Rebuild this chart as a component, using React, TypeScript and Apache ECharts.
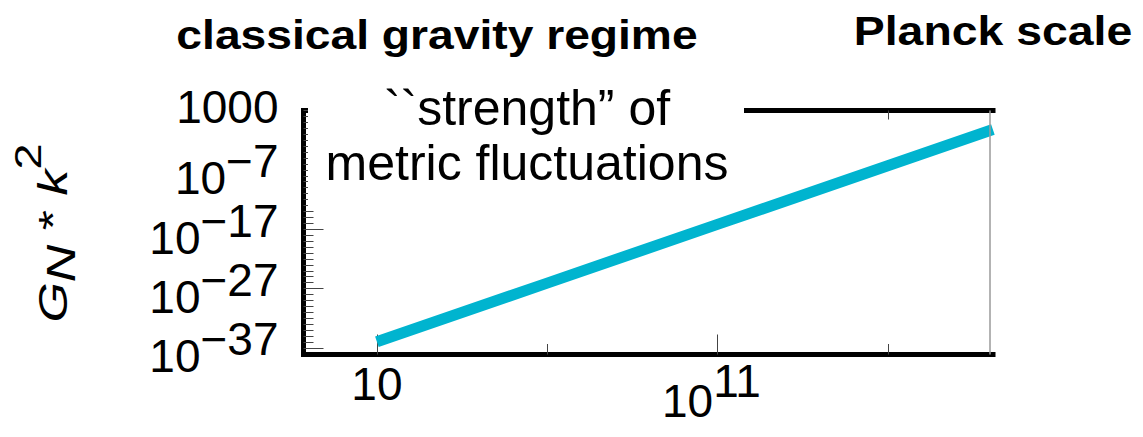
import React, { useEffect, useRef } from "react";
import * as echarts from "echarts";

// ---- data ----
const momentumGeV = [10, 1e6, 1e11, 1e16, 1.22e19];
const couplingStrength = [1.1e-36, 8.5e-27, 6.5e-17, 5e-7, 0.63];
const planckScaleGeV = 1e19;
const xRangeExp = [-1.155, 19.09];
const yRangeExp = [-38.1, 3];
const xMajorTickExp = [1, 11];
const xMinorTickExp = [6, 16];
const xTopTickExp = [16];
const yMajorTickExp = [3, -7, -17, -27, -37];
const titleLeft = "classical gravity regime";
const titleRight = "Planck scale";
const boxLines = ["``strength\u201D of", "metric fluctuations"];

const FONT = '"Liberation Sans", Arial, Helvetica, sans-serif';
const FS = 46;
const LH = 36;

const yMinorTickExp: number[] = [];
for (let e = -37; e <= 2; e++) {
  if (yMajorTickExp.indexOf(e) < 0) yMinorTickExp.push(e);
}
// split labels over two axes so neighbouring labels never collide in ECharts' layout
const yLabelsA = yMajorTickExp.filter((_, i) => i % 2 === 0);
const yLabelsB = yMajorTickExp.filter((_, i) => i % 2 === 1);

const tok = (padding: number[]) => ({ fontSize: FS, lineHeight: LH, fontFamily: FONT, color: "#000", padding });

const yRich = {
  p: tok([0, 0, 7, 0]),
  b: tok([17, 0, 0, 0]),
  s: tok([0, 0, 17, 0]),
};
const xRich = {
  p: tok([0, 0, 0, 0]),
  b: tok([33, 0, 0, 0]),
  s: tok([13, 12, 20, 0]),
};

const expLabel = (e: number) => {
  if (e === 0) return "{p|1}";
  if (e === 1) return "{p|10}";
  if (e === 3) return "{p|1000}";
  return `{b|10}{s|${e < 0 ? "\u2212" : ""}${Math.abs(e)}}`;
};

export default function App() {
  const ref = useRef<HTMLDivElement>(null);
  useEffect(() => {
    if (!ref.current) return;
    const chart = echarts.init(ref.current, undefined, { renderer: "svg" });
    const lineData = momentumGeV.map((k, i) => [Math.log10(k), Math.log10(couplingStrength[i])]);
    const axisBlack = { show: true, onZero: false, lineStyle: { color: "#000", width: 5, cap: "square" } };
    const noLine = { show: false, onZero: false };
    const yLabelAxis = (values: number[], withLine: boolean, ticks: number[] | null, tickLen: number) => ({
      type: "value",
      position: "left",
      min: yRangeExp[0],
      max: yRangeExp[1],
      axisLine: withLine ? axisBlack : noLine,
      axisTick: ticks
        ? { show: true, inside: true, length: tickLen, customValues: ticks, lineStyle: { color: "#444", width: 1 } }
        : { show: false },
      axisLabel: values.length
        ? { show: true, customValues: values, margin: 25, hideOverlap: false, showMinLabel: true, showMaxLabel: true, formatter: (v: number) => expLabel(Math.round(v)), rich: yRich }
        : { show: false },
      splitLine: { show: false },
    });
    chart.setOption({
      animation: false,
      textStyle: { fontFamily: FONT },
      grid: { left: 303.5, right: 150, top: 110.5, bottom: 82.5, containLabel: false },
      xAxis: [
        {
          type: "value",
          position: "bottom",
          min: xRangeExp[0],
          max: xRangeExp[1],
          axisLine: axisBlack,
          axisTick: { show: true, inside: true, length: 20, customValues: xMajorTickExp, lineStyle: { color: "#444", width: 1 } },
          axisLabel: { show: true, customValues: xMajorTickExp, margin: 11.5, hideOverlap: false, formatter: (v: number) => expLabel(Math.round(v)), rich: xRich },
          splitLine: { show: false },
        },
        {
          type: "value",
          position: "bottom",
          min: xRangeExp[0],
          max: xRangeExp[1],
          axisLine: noLine,
          axisTick: { show: true, inside: true, length: 10.5, customValues: xMinorTickExp, lineStyle: { color: "#444", width: 1 } },
          axisLabel: { show: false },
          splitLine: { show: false },
        },
        {
          type: "value",
          position: "top",
          min: xRangeExp[0],
          max: xRangeExp[1],
          axisLine: axisBlack,
          axisTick: { show: true, inside: true, length: 9, customValues: xTopTickExp, lineStyle: { color: "#444", width: 1 } },
          axisLabel: { show: false },
          splitLine: { show: false },
        },
      ],
      yAxis: [
        yLabelAxis(yLabelsA, true, yMajorTickExp, 20),
        yLabelAxis([], false, yMinorTickExp, 10),
        yLabelAxis(yLabelsB, false, null, 0),
      ],
      series: [
        {
          type: "line",
          xAxisIndex: 0,
          yAxisIndex: 0,
          data: lineData,
          showSymbol: false,
          symbol: "none",
          lineStyle: { color: "#00b4cf", width: 11, cap: "butt" },
          z: 3,
          markLine: {
            silent: true,
            symbol: "none",
            z: 5,
            label: { show: false },
            lineStyle: { color: "#9a9a9a", width: 1.5, type: "solid" },
            data: [{ xAxis: Math.log10(planckScaleGeV) }],
          },
        },
      ],
      graphic: [
        { type: "rect", z: 2, shape: { x: 308, y: 78, width: 436, height: 131 }, style: { fill: "#fff" } },
        {
          type: "text", z: 101, x: 527, y: 108,
          style: { text: boxLines[0], fontSize: 50, fontFamily: FONT, fill: "#000", align: "center", verticalAlign: "middle" },
        },
        {
          type: "text", z: 101, x: 527, y: 163,
          style: { text: boxLines[1], fontSize: 50, fontFamily: FONT, fill: "#000", align: "center", verticalAlign: "middle" },
        },
        {
          type: "text", z: 101, x: 437, y: 35, scaleX: 1.155,
          style: { text: titleLeft, fontSize: 40, fontWeight: "bold", fontFamily: FONT, fill: "#000", align: "center", verticalAlign: "middle" },
        },
        {
          type: "text", z: 101, x: 993, y: 31, scaleX: 1.16,
          style: { text: titleRight, fontSize: 40, fontWeight: "bold", fontFamily: FONT, fill: "#000", align: "center", verticalAlign: "middle" },
        },
        {
          type: "text", z: 101, x: 43, y: 233, rotation: Math.PI / 2, scaleX: 1.3,
          style: {
            text: "{i|G}{n|N}{m| * }{i|k}{u|2}",
            align: "center",
            verticalAlign: "middle",
            fill: "#000",
            rich: {
              i: { fontSize: 40, lineHeight: 40, fontStyle: "italic", fontFamily: FONT, fill: "#000", padding: [28, 0, 8, 0] },
              n: { fontSize: 40, lineHeight: 40, fontStyle: "italic", fontFamily: FONT, fill: "#000", padding: [36, 0, 0, 0] },
              m: { fontSize: 40, lineHeight: 40, fontFamily: FONT, fill: "#000", padding: [28, 0, 8, 0] },
              u: { fontSize: 36, lineHeight: 36, fontFamily: FONT, fill: "#000", padding: [5, 0, 35, 0] },
            },
          },
        },
      ],
    });
    return () => chart.dispose();
  }, []);
  return (
    <div
      ref={ref}
      style={{ position: "absolute", left: 0, top: 0, width: 1143, height: 437, background: "#fff" }}
    />
  );
}
